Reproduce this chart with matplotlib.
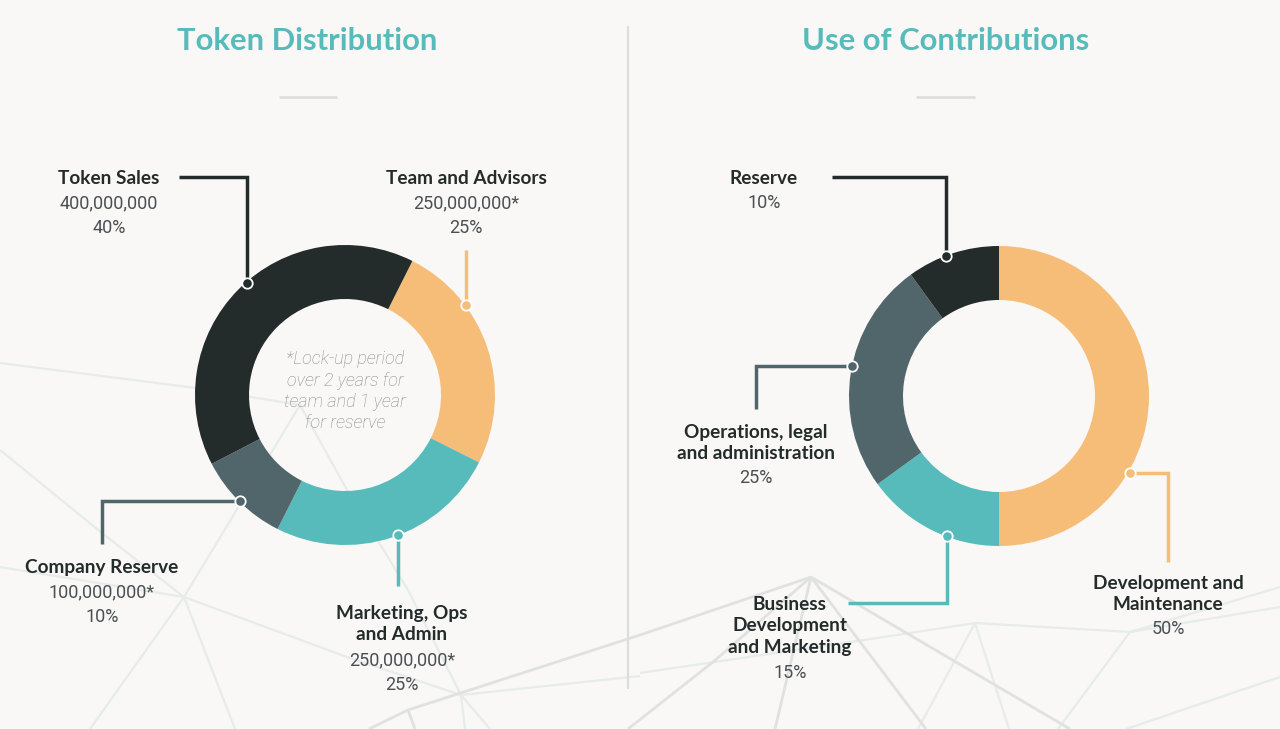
#!/usr/bin/env python3
# -*- coding: utf-8 -*-

import matplotlib
matplotlib.use('Agg')
import matplotlib.pyplot as plt

# data
token_shares = [25, 25, 10, 40]
token_colors = ['#f6bd78', '#58bbbb', '#51666b', '#232b2b']
use_shares = [50, 15, 25, 10]
use_colors = ['#f6bd78', '#58bbbb', '#51666b', '#232b2b']

titles = ['Token Distribution', 'Use of Contributions']
center_note = ['*Lock-up period', 'over 2 years for', 'team and 1 year', 'for reserve']

BG = '#f9f8f6'
W, H = 1280, 729

plt.rcParams['font.family'] = ['Lato', 'DejaVu Sans']

fig = plt.figure(figsize=(12.8, 7.29), dpi=100, facecolor=BG)
ax = fig.add_axes([0, 0, 1, 1])
ax.set_xlim(0, W)
ax.set_ylim(0, H)
ax.axis('off')


def line(points, color, lw, z=2):
    xs = [p[0] for p in points]
    ys = [H - p[1] for p in points]
    ax.plot(xs, ys, color=color, lw=lw, zorder=z, solid_capstyle='butt', solid_joinstyle='miter')


def leader(points, color):
    line(points, color, 2.5, z=4)
    x, y = points[-1]
    ax.plot([x], [H - y], 'o', ms=7.5, mfc=color, mec='white', mew=1.3, zorder=5)


def donut(shares, colors, center, start):
    ax.pie(shares, colors=colors, startangle=start, counterclock=False,
           center=(center[0], H - center[1]), radius=150, frame=True,
           wedgeprops=dict(width=54, linewidth=0))


def label(x, y, lines, bold_count):
    # one call per text line, bold header then light numbers
    for i, s in enumerate(lines):
        if i < bold_count:
            ax.text(x, H - y[i] - 1, s, ha='center', va='center', fontsize=13.7,
                    fontweight='bold', color='#232b2b', zorder=6)
        else:
            ax.text(x, H - y[i] - 1, s, ha='center', va='center', fontsize=13,
                    family=['Roboto', 'DejaVu Sans'], fontweight='normal',
                    color='#4a5053', zorder=6)


# background network
faint = '#e6ecea'
grey = '#e0e2e0'
line([(0, 363), (196, 388), (300, 405), (347, 490), (408, 590), (461, 695), (490, 729)], faint, 1.6, 1)
line([(300, 405), (184, 597), (90, 729)], faint, 1.6, 1)
line([(0, 450), (102, 533), (184, 597), (235, 729)], faint, 1.6, 1)
line([(0, 567), (184, 597), (347, 657), (461, 695), (640, 676)], faint, 1.6, 1)
line([(640, 673), (864, 640), (975, 623), (1130, 632), (1280, 607)], faint, 1.6, 1)
line([(975, 623), (918, 729)], faint, 1.6, 1)
line([(975, 623), (1009, 729)], faint, 1.6, 1)
line([(1130, 632), (1058, 729)], faint, 1.6, 1)
line([(1130, 632), (1280, 587)], faint, 1.6, 1)
line([(1126, 729), (1280, 677)], faint, 1.6, 1)
line([(461, 695), (465, 729)], faint, 1.6, 1)
line([(369, 729), (408, 710), (640, 635), (811, 577)], grey, 2, 1)
line([(811, 577), (713, 662), (628, 729)], grey, 2, 1)
line([(811, 577), (775, 729)], grey, 2, 1)
line([(811, 577), (926, 729)], grey, 2, 1)
line([(811, 577), (1070, 729)], grey, 2, 1)
line([(408, 710), (415, 729)], grey, 2, 1)

# divider and title rules
line([(627.5, 26), (627.5, 689)], '#dcdedc', 1.6, 1)
line([(279, 96.5), (337, 96.5)], '#dcdcda', 1.8, 1)
line([(916, 96.5), (975, 96.5)], '#dcdcda', 1.8, 1)

# titles
ax.text(307.5, H - 41, titles[0], ha='center', va='center', fontsize=22.3, fontweight='bold', color='#58bbbb')
ax.text(946, H - 41, titles[1], ha='center', va='center', fontsize=22.3, fontweight='bold', color='#58bbbb')

# donuts
donut(token_shares, token_colors, (345, 395), 63.3)
donut(use_shares, use_colors, (999, 396), 90)
ax.set_xlim(0, W)
ax.set_ylim(0, H)
ax.set_aspect('auto')
ax.axis('off')

# center note
for yy, s in zip([359, 381, 402, 423], center_note):
    ax.text(345, H - yy, s, ha='center', va='center', fontsize=13, style='italic',
            family=['Roboto', 'DejaVu Sans'], fontweight='light', color='#8a8a8a', zorder=6)

# leaders
leader([(179, 177), (247, 177), (247, 283)], '#232b2b')
leader([(466, 250), (466, 305)], '#f6bd78')
leader([(398, 586), (398, 535)], '#58bbbb')
leader([(102, 544), (102, 501), (240, 501)], '#51666b')
leader([(832, 177), (946, 177), (946, 256)], '#232b2b')
leader([(756, 409), (756, 366), (852, 366)], '#51666b')
leader([(848, 603), (947, 603), (947, 536)], '#58bbbb')
leader([(1168, 562), (1168, 473), (1130, 473)], '#f6bd78')

# labels
label(109, [177, 202, 227], ['Token Sales', '400,000,000', '40%'], 1)
label(466, [177, 202, 227], ['Team and Advisors', '250,000,000*', '25%'], 1)
label(102, [566, 591, 616], ['Company Reserve', '100,000,000*', '10%'], 1)
label(402, [613, 634, 659, 684], ['Marketing, Ops', 'and Admin', '250,000,000*', '25%'], 2)
label(764, [177, 202], ['Reserve', '10%'], 1)
label(756, [431, 452, 477], ['Operations, legal', 'and administration', '25%'], 2)
label(790, [603, 625, 647, 672], ['Business', 'Development', 'and Marketing', '15%'], 3)
label(1168, [582, 603, 628], ['Development and', 'Maintenance', '50%'], 2)

fig.savefig('out.png', dpi=100, facecolor=BG)
